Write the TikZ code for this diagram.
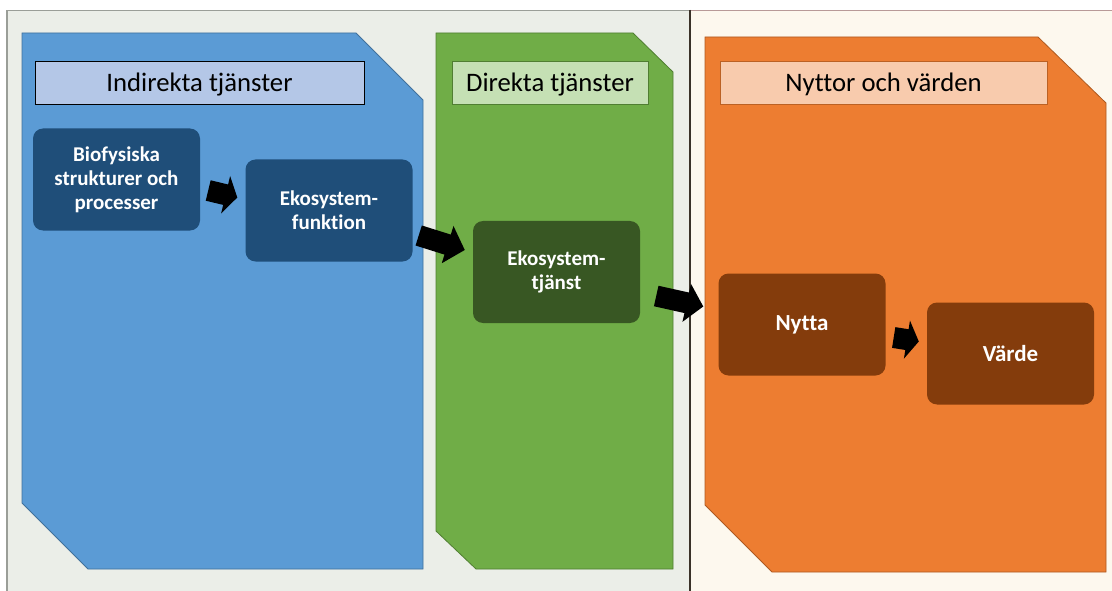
\documentclass[tikz,border=0pt]{standalone}
\usepackage{fontspec}
\setmainfont{Carlito}[Ligatures=NoCommon]
\usetikzlibrary{arrows.meta,calc}
\definecolor{bgL}{HTML}{EBEEE8}
\definecolor{bgR}{HTML}{FDF8EE}
\definecolor{bluP}{HTML}{5B9BD5}
\definecolor{bluB}{HTML}{41719C}
\definecolor{bluH}{HTML}{B4C7E7}
\definecolor{bluD}{HTML}{1F4E79}
\definecolor{grnP}{HTML}{70AD47}
\definecolor{grnB}{HTML}{507E32}
\definecolor{grnH}{HTML}{C5E0B4}
\definecolor{grnD}{HTML}{385723}
\definecolor{orgP}{HTML}{ED7D31}
\definecolor{orgB}{HTML}{AE5A21}
\definecolor{orgH}{HTML}{F8CBAD}
\definecolor{orgD}{HTML}{843C0C}
\definecolor{frameL}{HTML}{9A9E98}
\definecolor{frameR}{HTML}{B89A98}
\definecolor{divider}{HTML}{3A3228}
\tikzset{
  panel/.style={line width=0.8pt},
  header/.style={inner sep=0pt, minimum height=43pt, line width=0.9pt,
    text height=21pt, text depth=3pt,
    font=\fontsize{26.7}{32}\selectfont, text=black},
  inbox/.style={rounded corners=10pt, inner sep=0pt, minimum width=167pt,
    minimum height=102pt, align=center, text=white,
    font=\bfseries\fontsize{21}{24}\selectfont},
  bigword/.style={font=\bfseries\fontsize{23}{26}\selectfont},
  bigarrow/.style={draw=black, line width=21pt, -{Triangle[length=#1,width=38pt]}},
  bigarrow/.default=12pt
}
\begin{document}
\begin{tikzpicture}[x=1pt,y=-1pt]
\useasboundingbox (0,0) rectangle (1112,591);
% background panels
\fill[white] (0,0) rectangle (1112,591);
\fill[bgL] (7,10) rectangle (690,591);
\fill[bgR] (690,10) rectangle (1112,591);
\draw[frameL, line width=1.5pt] (7,591) -- (7,10.5) -- (690,10.5);
\draw[frameR, line width=1.5pt] (690,10.5) -- (1112,10.5);
\draw[divider, line width=2pt] (690,10) -- (690,591);
% category panels
\filldraw[panel, fill=bluP, draw=bluB] (22,33) -- (356,33) -- (423,100) -- (423,569) -- (88,569) -- (22,503) -- cycle;
\filldraw[panel, fill=grnP, draw=grnB] (436,33) -- (633,33) -- (673,72) -- (673,569) -- (476,569) -- (436,531) -- cycle;
\filldraw[panel, fill=orgP, draw=orgB] (705,37) -- (1038,37) -- (1106,103) -- (1106,572) -- (772,572) -- (705,505) -- cycle;
% headers
\node[header, fill=bluH, draw=black, minimum width=329pt] (hInd) at (199.5,82.5) {Indirekta tjänster};
\node[header, fill=grnH, draw=grnB, minimum width=196pt] (hDir) at (550,82.5) {Direkta tjänster};
\node[header, fill=orgH, draw=orgB!80!orgP, minimum width=327pt] (hNyt) at (883.5,82.5) {Nyttor och värden};
% inner boxes
\node[inbox, fill=bluD] (bio) at (116.5,179.5) {Biofysiska\\strukturer och\\processer};
\node[inbox, fill=bluD] (ekf) at (329,210.5) {Ekosystem-\\funktion};
\node[inbox, fill=grnD] (ekt) at (556.5,272) {Ekosystem-\\tjänst};
\node[inbox, bigword, fill=orgD] (nyt) at (802,324.5) {Nytta};
\node[inbox, bigword, fill=orgD] (var) at (1010.5,353.5) {Värde};
% block arrows
\draw[bigarrow=12pt] ($(bio.east)+(8,11)$) -- ($(ekf.west)+(-8,-13)$);
\draw[bigarrow=18pt] ($(ekf.east)+(6,25)$) -- ($(ekt.west)+(-8,-22)$);
\draw[bigarrow=17pt] ($(ekt.east)+(16,24)$) -- ($(nyt.west)+(-15,-18)$);
\draw[bigarrow=12pt] ($(nyt.east)+(8,13)$) -- ($(var.west)+(-8,-12)$);
\end{tikzpicture}
\end{document}
